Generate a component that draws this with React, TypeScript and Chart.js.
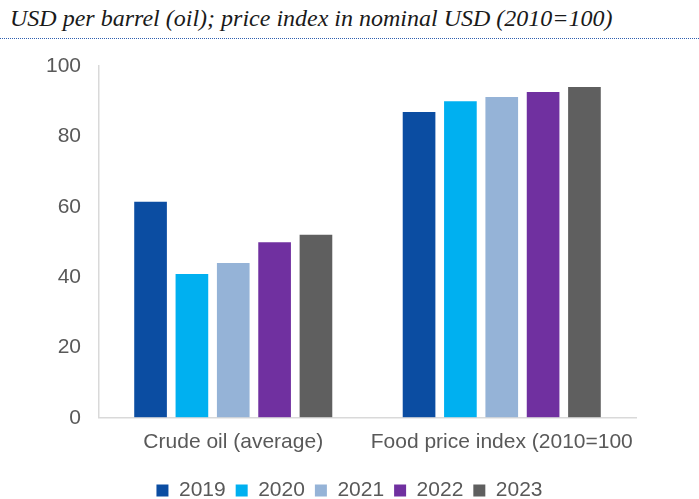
import React, { useEffect, useRef } from "react";
import { Chart, registerables } from "chart.js";

Chart.register(...registerables);

const categories = ["Crude oil (average)", "Food price index (2010=100"];
const years = ["2019", "2020", "2021", "2022", "2023"];
const values2019 = [61.4, 86.9];
const values2020 = [40.9, 90.0];
const values2021 = [44.0, 91.2];
const values2022 = [49.9, 92.6];
const values2023 = [52.0, 94.0];
const colors = ["#0B4DA2", "#00B0F0", "#95B3D7", "#7030A0", "#5F5F5F"];
const yTicks = [0, 20, 40, 60, 80, 100];
const titleText = "USD per barrel (oil); price index in nominal USD (2010=100)";

const legendShift = {
  id: "legendShift",
  afterLayout(chart: any) {
    const lg = chart.legend;
    if (lg) {
      lg.top += 3;
      lg.bottom += 3;
    }
  },
};

export default function App() {
  const ref = useRef<HTMLCanvasElement | null>(null);
  useEffect(() => {
    if (!ref.current) return;
    const series = [values2019, values2020, values2021, values2022, values2023];
    const font = { family: "'Liberation Sans', Arial, sans-serif", size: 21 };
    const chart = new Chart(ref.current, {
      type: "bar",
      data: {
        labels: categories,
        datasets: series.map((d, i) => ({
          label: years[i],
          data: d,
          backgroundColor: colors[i],
          borderWidth: 0,
          categoryPercentage: 0.77,
          barPercentage: 0.79,
        })),
      },
      plugins: [legendShift],
      options: {
        animation: false,
        responsive: false,
        maintainAspectRatio: false,
        layout: { padding: { top: 66, right: 0, left: 0, bottom: -9 } },
        plugins: {
          tooltip: { enabled: false },
          legend: {
            position: "bottom",
            labels: {
              boxWidth: 12,
              boxHeight: 12,
              padding: 10,
              color: "#595959",
              font,
            },
          },
        },
        scales: {
          x: {
            grid: { display: true, color: "rgba(0,0,0,0)", drawTicks: false },
            border: { display: true, color: "#D9D9D9", width: 1.5 },
            ticks: {
              color: "#595959",
              font,
              padding: 12,
              maxRotation: 0,
              minRotation: 0,
              autoSkip: false,
            },
          },
          y: {
            min: 0,
            max: 100,
            afterFit: (s: any) => {
              s.width = 99;
            },
            afterBuildTicks: (s: any) => {
              s.ticks = yTicks.map((v) => ({ value: v }));
            },
            grid: { display: true, color: "rgba(0,0,0,0)", drawTicks: false },
            border: { display: true, color: "#D9D9D9", width: 1.5 },
            ticks: { color: "#595959", font, padding: 18 },
          },
          yRightSpace: {
            type: "linear",
            position: "right",
            min: 0,
            max: 100,
            afterFit: (s: any) => {
              s.width = 63;
            },
            grid: { display: false, drawTicks: false },
            border: { display: false },
            ticks: { display: false },
          },
        },
      },
    });
    return () => chart.destroy();
  }, []);
  return (
    <div style={{ position: "absolute", left: 0, top: 0, width: 699, height: 499, background: "#fff", overflow: "hidden" }}>
      <div
        style={{
          position: "absolute",
          left: 10,
          top: 4,
          fontFamily: "'Liberation Serif', 'Times New Roman', serif",
          fontStyle: "italic",
          fontSize: 24,
          color: "#1a1a1a",
          whiteSpace: "nowrap",
          lineHeight: "28px",
        }}
      >
        {titleText}
      </div>
      <div
        style={{
          position: "absolute",
          left: 0,
          top: 38,
          width: 699,
          height: 0,
          borderTop: "1px dotted #2F5FB0",
        }}
      />
      <canvas ref={ref} width={699} height={499} style={{ position: "absolute", left: 0, top: 0, width: 699, height: 499 }} />
    </div>
  );
}
